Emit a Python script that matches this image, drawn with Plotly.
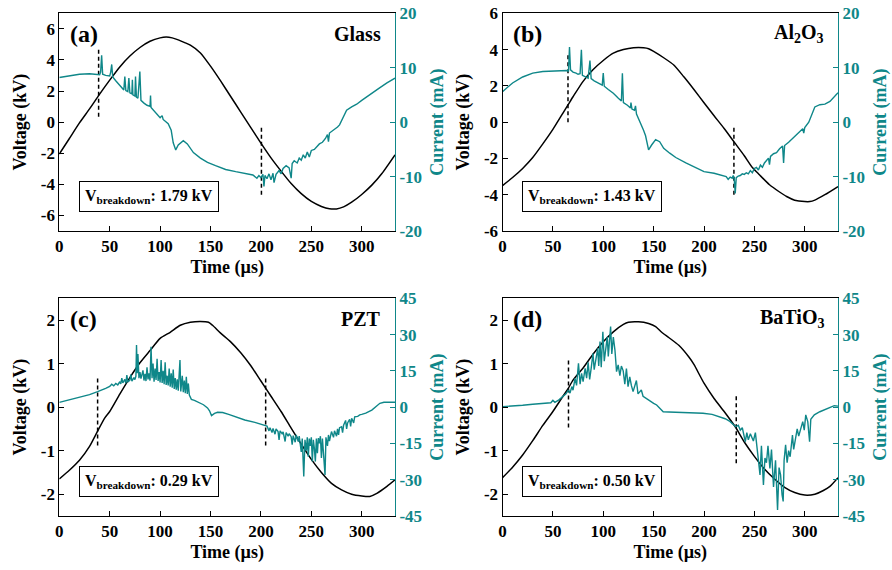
import plotly.graph_objects as go
from plotly.subplots import make_subplots

TEAL = "#0f8789"
FONT = "Liberation Serif"

# ---------------- data ----------------
# Panel (a) Glass
a_tv = [0, 10, 20, 30, 40, 50, 60, 70, 80, 90, 100, 106, 112, 118, 125, 130, 140, 150, 160, 170, 180, 190,
        200, 210, 220, 230, 240, 250, 260, 268, 275, 282, 290, 300, 310, 320, 333]
a_v = [-2.05, -1.05, -0.05, 0.85, 1.8, 2.7, 3.55, 4.25, 4.8, 5.2, 5.42, 5.47, 5.42, 5.29, 5.1, 4.95, 4.45, 3.6,
       2.65, 1.65, 0.65, -0.35, -1.35, -2.3, -3.15, -3.95, -4.6, -5.1, -5.42, -5.57, -5.58, -5.45, -5.15, -4.65,
       -4.05, -3.3, -2.1]
a_ti = [0, 10, 20, 30, 38, 40, 41, 42, 43, 46, 50, 51, 52, 53, 56, 60, 62, 64, 65, 66, 68, 69, 70, 72, 72.5, 73,
        75, 75.6, 76.5, 78, 79.9, 81, 84, 87, 90, 90.5, 91, 95, 100, 102, 103, 108, 111, 113, 115.5, 118, 123, 127,
        133, 140, 147, 155, 165, 175, 185, 192, 196, 198, 200, 202, 203, 204, 206, 208, 210, 212, 213, 215, 218,
        220, 222, 225, 228, 230, 231, 233, 236, 238, 240, 242, 244, 246, 248, 250, 253, 256, 258, 261, 264, 266,
        267, 268, 272, 276, 278, 281, 285, 290, 295, 300, 305, 310, 317, 325, 333]
a_i = [8.2, 8.5, 8.8, 8.9, 8.8, 8.7, 9.2, 12.3, 8.8, 8.6, 8.5, 9.2, 10.6, 8.3, 7.6, 6.7, 6.2, 5.9, 8.4, 5.8, 5.6,
       8.1, 5.4, 5.2, 7.8, 5.0, 4.8, 8.4, 4.6, 4.4, 9.3, 4.0, 3.5, 3.1, 2.9, 4.9, 2.7, 1.9, 0.8, 1.2, 0.5, -0.3,
       -1.5, -3.8, -5.1, -4.2, -3.4, -4.0, -5.6, -6.6, -7.4, -8.0, -8.7, -9.1, -9.4, -9.7, -10.3, -9.8, -10.2,
       -9.6, -11.8, -9.8, -10.4, -9.5, -10.6, -9.4, -11.1, -9.6, -8.9, -9.5, -8.5, -8.0, -8.4, -10.3, -7.6, -7.1,
       -7.5, -6.6, -7.0, -6.0, -6.6, -5.5, -6.4, -5.2, -5.0, -4.4, -4.0, -3.7, -3.0, -2.3, -3.6, -2.0, -1.5, -0.9,
       -0.5, 0.8, 2.2, 2.8, 3.3, 4.0, 4.6, 5.3, 6.2, 7.2, 8.1]

# Panel (b) Al2O3
b_tv = [0, 10, 20, 30, 40, 50, 60, 65, 70, 80, 90, 100, 110, 120, 130, 140, 145, 150, 160, 170, 180, 190, 200,
        210, 220, 230, 240, 248, 255, 265, 275, 282, 290, 300, 305, 310, 320, 333]
b_v = [-3.5, -3.05, -2.55, -1.95, -1.2, -0.4, 0.5, 0.95, 1.4, 2.25, 2.9, 3.4, 3.8, 4.0, 4.1, 4.1, 4.05, 3.9,
       3.55, 3.15, 2.5, 1.8, 1.07, 0.35, -0.35, -1.1, -1.85, -2.5, -2.9, -3.45, -3.85, -4.1, -4.3, -4.38, -4.38,
       -4.3, -4.0, -3.55]
b_ti = [0, 10, 20, 30, 40, 50, 60, 64, 65.5, 66.5, 67.5, 70, 73, 75, 77, 78.3, 79.3, 82, 85, 86.8, 88, 91, 94,
        97, 99, 100, 101, 105, 110, 115, 118, 119, 120, 124, 127, 127.5, 128.5, 131, 132, 133, 136, 140, 142,
        143.5, 145, 148, 152, 156, 160, 166, 172, 182, 192, 200, 210, 216, 222, 224, 226, 228, 229, 230, 231, 232,
        234, 236, 238, 240, 242, 244, 246, 248, 250, 252, 254, 256, 258, 260, 262, 264, 265, 266, 269, 272, 275,
        278, 279, 280, 284, 288, 291, 295, 298, 299, 300, 304, 307, 310, 315, 320, 325, 329, 333]
b_i = [5.6, 7.2, 8.3, 9.0, 9.3, 9.4, 9.4, 9.5, 9.3, 13.8, 9.6, 9.2, 9.0, 8.8, 8.9, 13.3, 8.6, 8.3, 8.1, 11.3,
       8.0, 7.6, 7.3, 7.0, 6.8, 9.0, 6.6, 6.0, 5.3, 4.4, 3.9, 9.0, 3.6, 3.1, 2.6, 3.6, 2.4, 2.2, 3.0, 1.5, 0.3,
       -1.5, -2.5, -4.0, -5.1, -4.2, -3.2, -3.6, -4.8, -5.7, -6.5, -7.5, -8.4, -9.1, -9.4, -9.7, -10.0, -10.5,
       -10.1, -10.3, -9.8, -10.4, -13.1, -10.2, -9.9, -9.8, -9.5, -9.6, -9.3, -9.5, -8.9, -9.3, -8.5, -8.3, -8.8,
       -7.9, -8.3, -7.5, -7.1, -6.6, -7.8, -6.3, -5.8, -5.6, -4.9, -4.4, -7.5, -4.3, -3.7, -3.0, -2.6, -1.9, -1.2,
       -2.0, -1.0, 0.0, 1.5, 2.8, 3.2, 3.3, 3.8, 4.6, 5.4]

# Panel (c) PZT
c_tv = [0, 10, 20, 30, 38, 45, 50, 60, 70, 80, 90, 100, 110, 120, 130, 140, 148, 152, 160, 170, 180, 190, 200,
        210, 220, 230, 240, 250, 260, 270, 280, 290, 300, 308, 315, 325, 333]
c_v = [-1.65, -1.45, -1.22, -0.9, -0.55, -0.25, -0.1, 0.3, 0.68, 1.02, 1.3, 1.58, 1.72, 1.88, 1.95, 1.97, 1.95,
       1.88, 1.7, 1.5, 1.25, 0.95, 0.6, 0.25, -0.1, -0.48, -0.85, -1.2, -1.5, -1.75, -1.9, -2.0, -2.04, -2.05,
       -1.98, -1.82, -1.67]
c_ti = [0, 10, 20, 30, 38, 42, 46, 50, 52, 54, 56, 58, 60, 61, 62, 63, 65, 66, 67, 68, 70, 71, 72, 74, 75, 76,
        76.6, 77.3, 78, 79, 80, 81, 83, 84, 85, 86, 87, 88, 89, 90, 91, 92, 93, 94, 95, 96, 97, 98, 99, 100, 101,
        102, 103, 104, 105, 106, 107, 108, 109, 110, 111, 112, 113, 114, 115, 116, 117, 118, 119.7, 120.5, 122,
        123, 124, 125, 126, 127, 128, 129, 131, 134, 138, 143, 147, 149, 151, 154, 157, 162, 168, 176, 184, 194,
        203, 206, 208, 209, 211, 212, 214, 215, 217, 218, 219, 221, 222, 224, 225, 227, 228, 230, 231, 232, 234,
        235, 237, 238, 240, 241, 242.5, 243.7, 245, 246, 247, 248, 249, 250, 251, 252, 253, 254, 255, 256, 257,
        258, 259, 260, 261, 262, 263.6, 264.5, 266, 267, 268, 270, 272, 273, 275, 276, 277, 278, 280, 281, 282,
        284, 285, 286, 288, 289, 290, 292, 293, 296, 298, 300, 304, 310, 315, 318, 322, 333]
c_i = [2.0, 3.0, 4.0, 5.2, 6.4, 7.0, 7.8, 8.6, 9.5, 8.8, 9.8, 9.2, 10.5, 9.6, 12.0, 10.0, 11.5, 9.8, 13.3, 10.4,
       11.2, 13.5, 10.8, 12.2, 11.4, 12.8, 25.7, 14.0, 22.0, 12.0, 14.5, 11.8, 15.2, 11.0, 13.8, 10.8, 16.5, 11.5,
       14.0, 11.0, 25.0, 12.0, 18.0, 10.5, 16.0, 11.2, 20.0, 10.8, 14.5, 10.2, 19.5, 10.0, 15.0, 9.5, 18.5, 9.2,
       13.0, 9.0, 16.0, 8.5, 14.0, 8.0, 15.5, 7.5, 12.0, 7.2, 11.5, 6.8, 19.5, 6.5, 13.0, 6.2, 11.0, 5.8, 12.5,
       5.5, 9.8, 5.0, 3.2, 2.8, 2.0, 1.0, -0.3, -1.5, -3.5, -2.6, -2.1, -2.2, -3.0, -4.1, -5.3, -6.3, -7.4, -7.8,
       -9.8, -8.5, -10.5, -8.8, -11.2, -9.0, -10.1, -13.5, -9.8, -11.0, -10.2, -14.2, -10.5, -12.0, -11.0, -12.2,
       -15.5, -11.8, -14.5, -11.5, -14.2, -12.0, -18.5, -13.0, -28.7, -13.5, -18.0, -12.5, -20.5, -13.0, -16.0,
       -12.5, -22.5, -13.5, -17.0, -22.5, -13.0, -19.0, -12.8, -15.0, -12.0, -21.0, -13.0, -18.0, -28.0, -12.5,
       -16.0, -11.5, -14.0, -10.1, -12.5, -9.8, -12.0, -9.0, -11.5, -8.5, -8.1, -10.5, -7.5, -5.5, -9.0, -6.5,
       -5.0, -8.0, -4.6, -6.5, -4.0, -3.8, -3.2, -3.0, -2.5, -1.2, 0.5, 1.6, 2.0, 2.0]

# Panel (d) BaTiO3
d_tv = [0, 10, 20, 30, 40, 50, 60, 65, 70, 80, 90, 100, 110, 120, 125, 135, 145, 152, 158, 165, 175, 185, 190,
        200, 210, 220, 231, 240, 250, 260, 270, 280, 290, 300, 310, 318, 325, 333]
d_v = [-1.62, -1.38, -1.1, -0.77, -0.42, -0.1, 0.25, 0.42, 0.62, 0.9, 1.22, 1.5, 1.73, 1.9, 1.95, 1.96, 1.92,
       1.85, 1.72, 1.6, 1.42, 1.15, 0.98, 0.55, 0.2, -0.1, -0.45, -0.8, -1.13, -1.42, -1.65, -1.84, -1.96, -2.02,
       -2.0, -1.92, -1.82, -1.62]
d_ti = [0, 10, 20, 30, 40, 48, 50, 52, 56, 60, 63, 65.5, 67, 68.8, 70, 72, 73.5, 75.4, 77, 78.5, 80, 82, 83.5,
        85, 86.5, 88, 89.8, 91, 92.5, 94.5, 95.5, 96.8, 98, 99.6, 101, 102.5, 104, 105, 107.3, 108.5, 110, 111.6,
        113.2, 114.8, 116.5, 118, 119.8, 121.4, 123, 124.6, 126.3, 127.9, 129.6, 132.9, 134.5, 137.8, 139.5, 143,
        146.3, 150, 153, 156, 159.5, 165, 175, 185, 199, 208, 215.8, 221, 225.7, 229, 231.4, 234, 236, 238, 239.5,
        241, 242.5, 244, 246, 249, 251, 252.7, 254, 255.6, 257, 259, 260.5, 262, 263.5, 265.4, 267, 269, 271, 273,
        274.5, 276, 277.5, 278.6, 279.5, 281, 282.5, 284, 285.5, 287.8, 289, 291, 292.5, 294, 296, 298, 299.5, 301,
        303, 304.8, 306, 309.5, 315, 322.7, 329.3, 333]
d_i = [0.2, 0.4, 0.8, 1.2, 1.5, 1.8, 2.8, 2.0, 3.0, 4.3, 5.5, 7.1, 5.8, 8.5, 7.0, 11.9, 9.0, 18.1, 9.5, 14.0,
       10.5, 16.0, 12.0, 18.5, 11.5, 16.0, 22.2, 15.5, 19.0, 24.3, 17.0, 27.1, 16.5, 31.2, 19.0, 25.0, 29.1, 21.0,
       33.3, 22.0, 29.0, 23.6, 14.7, 17.5, 13.0, 17.0, 15.0, 9.5, 16.0, 8.5, 12.5, 9.0, 6.4, 11.0, 5.5, 7.1, 4.5,
       3.5, 2.5, 1.6, 0.9, -0.5, -1.9, -2.0, -2.1, -2.2, -2.5, -3.0, -3.9, -4.8, -5.9, -7.0, -8.1, -7.5, -9.5,
       -8.5, -11.0, -14.3, -10.5, -13.5, -11.0, -14.0, -10.5, -16.5, -20.0, -28.0, -16.0, -32.2, -21.0, -23.0,
       -16.0, -25.3, -17.5, -33.0, -22.0, -42.5, -25.0, -28.0, -36.3, -39.0, -22.0, -15.6, -23.0, -18.0, -20.5,
       -11.5, -17.5, -13.0, -9.0, -12.0, -8.5, -6.0, -9.5, -3.2, -6.0, -14.3, -5.0, -3.2, -1.9, -0.5, 0.6, 0.4]

# breakdown markers (time, bottom/top in kV)
a_dash = [(39, 0.35, 4.8), (200.5, -4.67, -0.25)]
b_dash = [(65, 0.0, 3.8), (229.7, -4.0, -0.2)]
c_dash = [(38, -0.88, 0.7), (204.7, -0.88, 0.7)]
d_dash = [(65.5, -0.47, 1.1), (232, -1.29, 0.29)]

labels = ["(a)", "(b)", "(c)", "(d)"]
materials = ["Glass", "Al<sub>2</sub>O<sub>3</sub>", "PZT", "BaTiO<sub>3</sub>"]
vbreak = ["1.79", "1.43", "0.29", "0.50"]

v_ranges = [[-7, 7], [-6, 6], [-2.5, 2.5], [-2.5, 2.5]]
v_ticks = [[-6, -4, -2, 0, 2, 4, 6], [-6, -4, -2, 0, 2, 4, 6], [-2, -1, 0, 1, 2], [-2, -1, 0, 1, 2]]
i_ranges = [[-20, 20], [-20, 20], [-45, 45], [-45, 45]]
i_ticks = [[-20, -10, 0, 10, 20], [-20, -10, 0, 10, 20], [-45, -30, -15, 0, 15, 30, 45],
           [-45, -30, -15, 0, 15, 30, 45]]
t_ticks = [0, 50, 100, 150, 200, 250, 300]

panels = [
    (a_tv, a_v, a_ti, a_i, a_dash),
    (b_tv, b_v, b_ti, b_i, b_dash),
    (c_tv, c_v, c_ti, c_i, c_dash),
    (d_tv, d_v, d_ti, d_i, d_dash),
]

def lab(v):
    return str(v)

fig = make_subplots(rows=2, cols=2, specs=[[{"secondary_y": True}, {"secondary_y": True}],
                                           [{"secondary_y": True}, {"secondary_y": True}]])

W, H = 892, 570
xdom = [[59.3 / W, 395.0 / W], [502.5 / W, 838.0 / W]]
ydom = [[1 - 231.0 / H, 1 - 13.3 / H], [1 - 516.0 / H, 1 - 298.3 / H]]

tickf = dict(family=FONT, size=17, color="black", weight="bold")
titlef = dict(family=FONT, size=18, color="black", weight="bold")

for k, (tv, v, ti, cur, dashes) in enumerate(panels):
    r, c = k // 2 + 1, k % 2 + 1
    fig.add_trace(go.Scatter(x=ti, y=cur, mode="lines", line=dict(color=TEAL, width=1.4),
                             showlegend=False), row=r, col=c, secondary_y=True)
    fig.add_trace(go.Scatter(x=tv, y=v, mode="lines", line=dict(color="black", width=1.5, shape="spline",
                                                                  smoothing=0.6),
                             showlegend=False), row=r, col=c, secondary_y=False)
    for (t0, y0, y1) in dashes:
        fig.add_trace(go.Scatter(x=[t0, t0], y=[y0, y1], mode="lines",
                                 line=dict(color="black", width=1.5, dash="4px,3px"), showlegend=False),
                      row=r, col=c, secondary_y=False)

    fig.update_xaxes(domain=xdom[c - 1], range=[0, 333], tickvals=t_ticks, ticktext=[str(t) for t in t_ticks],
                     showline=True, linecolor="black", linewidth=1, mirror=True, ticks="inside", ticklen=5,
                     tickcolor="black", showgrid=False, zeroline=False, tickfont=tickf, automargin=False,
                     title=dict(text="Time (\u00b5s)", font=titlef, standoff=4), row=r, col=c)
    fig.update_yaxes(domain=ydom[r - 1], range=v_ranges[k], tickvals=v_ticks[k],
                     ticktext=[lab(t) for t in v_ticks[k]], showline=True, linecolor="black", linewidth=1,
                     ticks="inside", ticklen=5, tickcolor="black", showgrid=False, zeroline=False,
                     tickfont=tickf, automargin=False, title=dict(text="Voltage (kV)", font=titlef, standoff=9),
                     row=r, col=c, secondary_y=False)
    fig.update_yaxes(range=i_ranges[k], tickvals=i_ticks[k], ticktext=[lab(t) for t in i_ticks[k]],
                     showline=True, linecolor=TEAL, linewidth=1, ticks="inside", ticklen=5, tickcolor=TEAL,
                     showgrid=False, zeroline=False, automargin=False,
                     tickfont=dict(family=FONT, size=17, color=TEAL, weight="bold"),
                     title=dict(text="Current (mA)", font=dict(family=FONT, size=18, color=TEAL, weight="bold"),
                                standoff=9),
                     row=r, col=c, secondary_y=True)

    xn = "x" if k == 0 else "x%d" % (k + 1)
    yn = "y" if k == 0 else "y%d" % (2 * k + 1)
    fig.add_annotation(xref=xn + " domain", yref=yn + " domain", x=0.026, y=0.905, xanchor="left",
                       yanchor="middle", text=labels[k], showarrow=False,
                       font=dict(family=FONT, size=24, color="black", weight="bold"))
    fig.add_annotation(xref=xn + " domain", yref=yn + " domain", x=0.963, y=0.905, xanchor="right",
                       yanchor="middle", text=materials[k], showarrow=False,
                       font=dict(family=FONT, size=20, color="black", weight="bold"))
    fig.add_annotation(xref=xn + " domain", yref=yn + " domain", x=0.059, y=0.16, xanchor="left",
                       yanchor="middle", text="V<sub>breakdown</sub>: %s kV" % vbreak[k], showarrow=False,
                       bordercolor="black", borderwidth=1, borderpad=5, bgcolor="white",
                       font=dict(family=FONT, size=16, color="black", weight="bold"))

fig.update_layout(width=W, height=H, margin=dict(l=0, r=0, t=0, b=0), plot_bgcolor="white",
                  paper_bgcolor="white", showlegend=False, font=dict(family=FONT))
fig.write_html("out.html", config={"displayModeBar": False},
               post_script="document.body.style.margin='0px';document.body.style.padding='0px';")
